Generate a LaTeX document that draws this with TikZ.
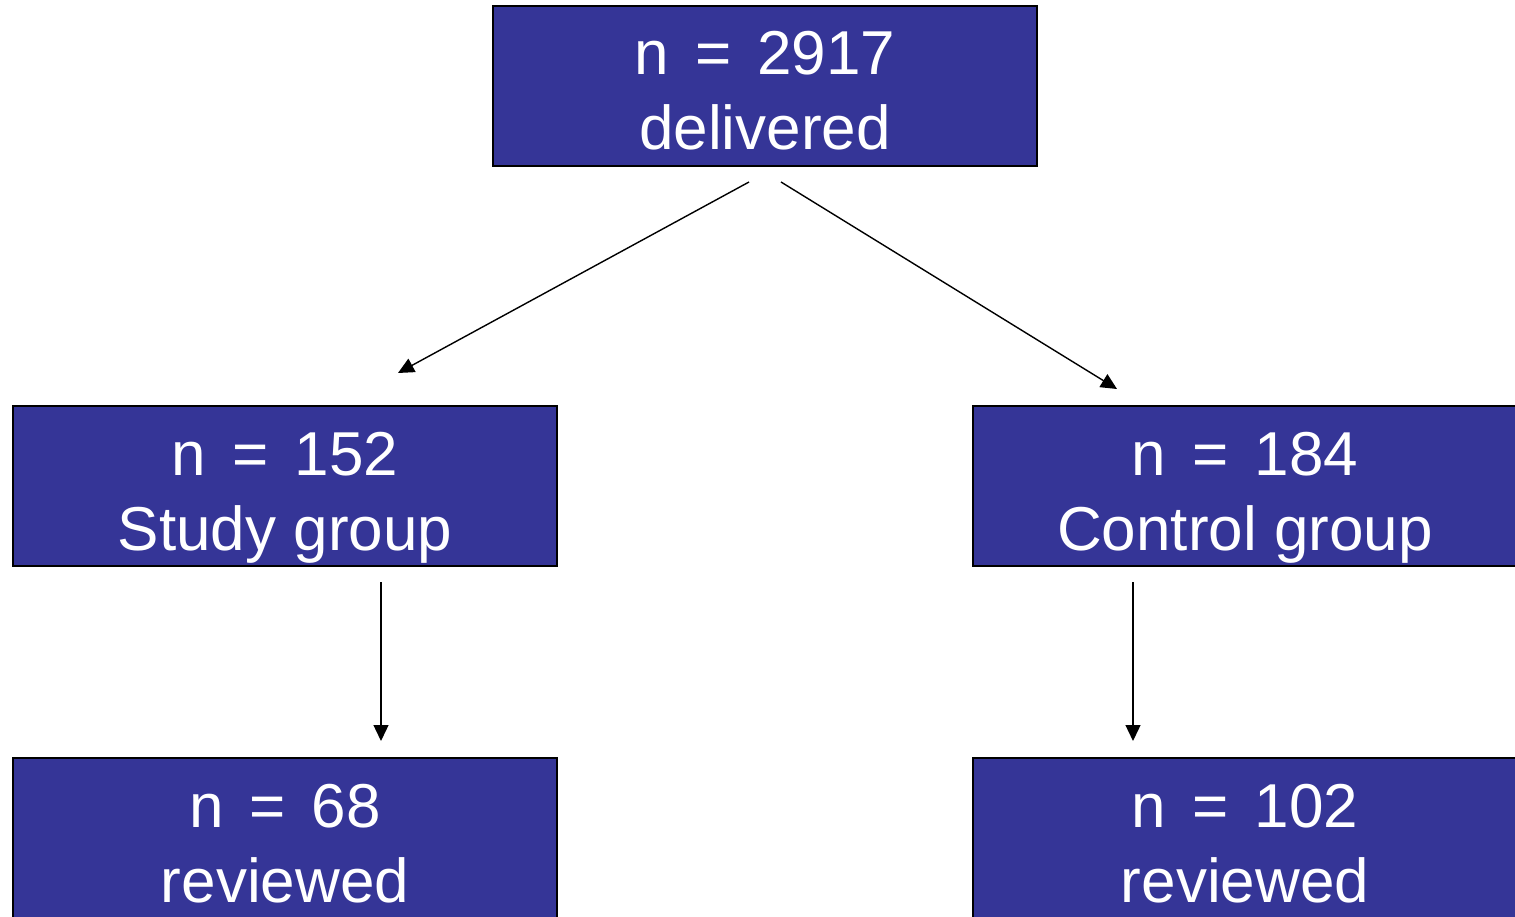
\documentclass[tikz,border=0pt]{standalone}
\usepackage{fontspec}
\setmainfont{Liberation Sans}
\usetikzlibrary{arrows.meta}
\definecolor{boxblue}{HTML}{353597}
\tikzset{
  box/.style={draw=black, line width=1.5pt, fill=boxblue, text=white,
    minimum width=544pt, minimum height=160pt, inner sep=0pt, align=center,
    font=\fontsize{62}{75}\selectfont},
  conn/.style={draw=black, line width=1.4pt, -{Triangle[length=16pt,width=15pt]}}
}
\newcommand{\toprule}{\rule{0pt}{69pt}}
\newcommand{\botrule}{\rule[-16pt]{0pt}{16pt}}
\newcommand{\eqsign}{\hspace{26pt}=\hspace{26pt}}
\begin{document}
\begin{tikzpicture}[x=1pt,y=-1pt]
\useasboundingbox (0,0) rectangle (1515,917);
\node[box] (top) at (765,86) {\toprule n\eqsign 2917\\delivered\botrule};
\node[box] (study) at (285,486) {\toprule n\eqsign 152\\Study group\botrule};
\node[box] (control) at (1245,486) {\toprule n\eqsign 184\\Control group\botrule};
\node[box] (srev) at (285,838) {\toprule n\eqsign 68\\reviewed\botrule};
\node[box] (crev) at (1245,838) {\toprule n\eqsign 102\\reviewed\botrule};
\coordinate (t1) at (749,182);
\coordinate (t2) at (781,182);
\coordinate (s1) at (398,373);
\coordinate (c1) at (1117,389);
\coordinate (s2) at (381,582);
\coordinate (s3) at (381,741);
\coordinate (c2) at (1133,582);
\coordinate (c3) at (1133,741);
\draw[conn] (t1) -- (s1);
\draw[conn] (t2) -- (c1);
\draw[conn] (s2) -- (s3);
\draw[conn] (c2) -- (c3);
\end{tikzpicture}
\end{document}
